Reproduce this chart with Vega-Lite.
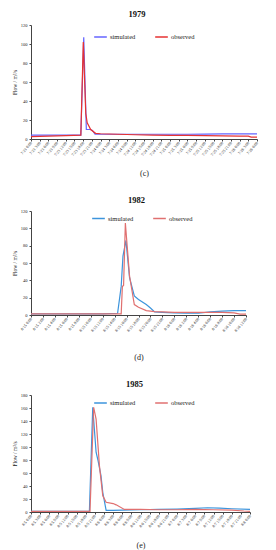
{
  "$schema": "https://vega.github.io/schema/vega-lite/v6.json",
  "background": "white",
  "padding": {"left": 12, "top": 9, "right": 5, "bottom": 0},
  "spacing": 17,
  "config": {
    "view": {"stroke": null},
    "font": "Liberation Serif",
    "axis": {"grid": false, "domainColor": "#444", "tickColor": "#444", "labelColor": "#222", "titleColor": "#222", "labelFont": "Liberation Serif", "titleFont": "Liberation Serif", "tickSize": 2, "titleFontWeight": "normal"},
    "title": {"font": "Liberation Serif", "fontWeight": "bold", "fontSize": 8.5, "color": "#111", "offset": 4},
    "legend": {"labelFont": "Liberation Serif", "labelFontSize": 6.5, "labelColor": "#222", "symbolType": "stroke", "symbolSize": 160, "symbolStrokeWidth": 1.5, "columnPadding": 16, "labelOffset": 2}
  },
  "datasets": {
    "y1979": [
      {"t": "1979-07-23T00:00:00Z", "series": "simulated", "flow": 4.0},
      {"t": "1979-07-23T03:00:00Z", "series": "simulated", "flow": 4.0},
      {"t": "1979-07-23T06:00:00Z", "series": "simulated", "flow": 4.0},
      {"t": "1979-07-23T09:00:00Z", "series": "simulated", "flow": 4.0},
      {"t": "1979-07-23T12:00:00Z", "series": "simulated", "flow": 4.0},
      {"t": "1979-07-23T15:00:00Z", "series": "simulated", "flow": 4.0},
      {"t": "1979-07-23T17:12:00Z", "series": "simulated", "flow": 4.0},
      {"t": "1979-07-23T18:12:00Z", "series": "simulated", "flow": 107},
      {"t": "1979-07-23T19:06:00Z", "series": "simulated", "flow": 10},
      {"t": "1979-07-23T20:30:00Z", "series": "simulated", "flow": 10},
      {"t": "1979-07-23T21:12:00Z", "series": "simulated", "flow": 9},
      {"t": "1979-07-23T22:06:00Z", "series": "simulated", "flow": 5},
      {"t": "1979-07-24T00:00:00Z", "series": "simulated", "flow": 5},
      {"t": "1979-07-24T06:00:00Z", "series": "simulated", "flow": 5},
      {"t": "1979-07-24T12:00:00Z", "series": "simulated", "flow": 5},
      {"t": "1979-07-24T18:00:00Z", "series": "simulated", "flow": 5},
      {"t": "1979-07-25T00:00:00Z", "series": "simulated", "flow": 5},
      {"t": "1979-07-25T06:00:00Z", "series": "simulated", "flow": 5},
      {"t": "1979-07-25T12:00:00Z", "series": "simulated", "flow": 5.2},
      {"t": "1979-07-25T18:00:00Z", "series": "simulated", "flow": 5.3},
      {"t": "1979-07-26T00:00:00Z", "series": "simulated", "flow": 5.4},
      {"t": "1979-07-26T06:00:00Z", "series": "simulated", "flow": 5.5},
      {"t": "1979-07-23T00:00:00Z", "series": "observed", "flow": 2.5},
      {"t": "1979-07-23T06:00:00Z", "series": "observed", "flow": 3.0},
      {"t": "1979-07-23T12:00:00Z", "series": "observed", "flow": 3.5},
      {"t": "1979-07-23T17:12:00Z", "series": "observed", "flow": 4.0},
      {"t": "1979-07-23T18:03:00Z", "series": "observed", "flow": 102},
      {"t": "1979-07-23T18:54:00Z", "series": "observed", "flow": 27},
      {"t": "1979-07-23T19:24:00Z", "series": "observed", "flow": 17},
      {"t": "1979-07-23T20:36:00Z", "series": "observed", "flow": 10},
      {"t": "1979-07-23T22:18:00Z", "series": "observed", "flow": 6},
      {"t": "1979-07-24T00:00:00Z", "series": "observed", "flow": 5.5},
      {"t": "1979-07-24T06:00:00Z", "series": "observed", "flow": 5},
      {"t": "1979-07-24T12:00:00Z", "series": "observed", "flow": 4.5},
      {"t": "1979-07-24T18:00:00Z", "series": "observed", "flow": 4},
      {"t": "1979-07-25T00:00:00Z", "series": "observed", "flow": 3.8},
      {"t": "1979-07-25T06:00:00Z", "series": "observed", "flow": 3.8},
      {"t": "1979-07-25T12:00:00Z", "series": "observed", "flow": 3.5},
      {"t": "1979-07-25T18:00:00Z", "series": "observed", "flow": 3.3},
      {"t": "1979-07-26T00:00:00Z", "series": "observed", "flow": 3},
      {"t": "1979-07-26T03:00:00Z", "series": "observed", "flow": 3},
      {"t": "1979-07-26T04:00:00Z", "series": "observed", "flow": 2},
      {"t": "1979-07-26T06:00:00Z", "series": "observed", "flow": 2}
    ],
    "y1982": [
      {"t": "1982-08-15T00:00:00Z", "series": "simulated", "flow": 1.2},
      {"t": "1982-08-15T06:00:00Z", "series": "simulated", "flow": 1.2},
      {"t": "1982-08-15T12:00:00Z", "series": "simulated", "flow": 1.2},
      {"t": "1982-08-15T14:30:00Z", "series": "simulated", "flow": 2},
      {"t": "1982-08-15T15:06:00Z", "series": "simulated", "flow": 33},
      {"t": "1982-08-15T15:24:00Z", "series": "simulated", "flow": 68},
      {"t": "1982-08-15T15:54:00Z", "series": "simulated", "flow": 86},
      {"t": "1982-08-15T16:30:00Z", "series": "simulated", "flow": 43},
      {"t": "1982-08-15T17:18:00Z", "series": "simulated", "flow": 22},
      {"t": "1982-08-15T18:00:00Z", "series": "simulated", "flow": 18},
      {"t": "1982-08-15T19:18:00Z", "series": "simulated", "flow": 12},
      {"t": "1982-08-15T20:00:00Z", "series": "simulated", "flow": 8},
      {"t": "1982-08-15T20:42:00Z", "series": "simulated", "flow": 3.5},
      {"t": "1982-08-15T22:00:00Z", "series": "simulated", "flow": 3},
      {"t": "1982-08-16T00:00:00Z", "series": "simulated", "flow": 2.5},
      {"t": "1982-08-16T02:00:00Z", "series": "simulated", "flow": 2},
      {"t": "1982-08-16T04:00:00Z", "series": "simulated", "flow": 2},
      {"t": "1982-08-16T06:00:00Z", "series": "simulated", "flow": 3.5},
      {"t": "1982-08-16T08:00:00Z", "series": "simulated", "flow": 4.5},
      {"t": "1982-08-16T10:00:00Z", "series": "simulated", "flow": 5},
      {"t": "1982-08-16T12:00:00Z", "series": "simulated", "flow": 5},
      {"t": "1982-08-15T00:00:00Z", "series": "observed", "flow": 1.2},
      {"t": "1982-08-15T12:00:00Z", "series": "observed", "flow": 1.2},
      {"t": "1982-08-15T15:06:00Z", "series": "observed", "flow": 1.2},
      {"t": "1982-08-15T15:18:00Z", "series": "observed", "flow": 33},
      {"t": "1982-08-15T15:30:00Z", "series": "observed", "flow": 34},
      {"t": "1982-08-15T15:48:00Z", "series": "observed", "flow": 106},
      {"t": "1982-08-15T16:30:00Z", "series": "observed", "flow": 45},
      {"t": "1982-08-15T17:18:00Z", "series": "observed", "flow": 12},
      {"t": "1982-08-15T18:00:00Z", "series": "observed", "flow": 9},
      {"t": "1982-08-15T19:18:00Z", "series": "observed", "flow": 5},
      {"t": "1982-08-15T20:42:00Z", "series": "observed", "flow": 4},
      {"t": "1982-08-15T22:00:00Z", "series": "observed", "flow": 3.5},
      {"t": "1982-08-16T00:00:00Z", "series": "observed", "flow": 3},
      {"t": "1982-08-16T04:00:00Z", "series": "observed", "flow": 3},
      {"t": "1982-08-16T08:00:00Z", "series": "observed", "flow": 3},
      {"t": "1982-08-16T10:00:00Z", "series": "observed", "flow": 2.5},
      {"t": "1982-08-16T11:00:00Z", "series": "observed", "flow": 1},
      {"t": "1982-08-16T12:00:00Z", "series": "observed", "flow": 1}
    ],
    "y1985": [
      {"t": "1985-08-05T00:00:00Z", "series": "simulated", "flow": 1},
      {"t": "1985-08-05T06:00:00Z", "series": "simulated", "flow": 1},
      {"t": "1985-08-05T12:00:00Z", "series": "simulated", "flow": 1},
      {"t": "1985-08-05T18:00:00Z", "series": "simulated", "flow": 1},
      {"t": "1985-08-05T19:12:00Z", "series": "simulated", "flow": 1},
      {"t": "1985-08-05T20:18:00Z", "series": "simulated", "flow": 161},
      {"t": "1985-08-05T21:24:00Z", "series": "simulated", "flow": 92},
      {"t": "1985-08-05T22:00:00Z", "series": "simulated", "flow": 80},
      {"t": "1985-08-05T23:00:00Z", "series": "simulated", "flow": 56},
      {"t": "1985-08-05T23:36:00Z", "series": "simulated", "flow": 30},
      {"t": "1985-08-06T00:42:00Z", "series": "simulated", "flow": 2.5},
      {"t": "1985-08-06T03:00:00Z", "series": "simulated", "flow": 2.5},
      {"t": "1985-08-06T06:00:00Z", "series": "simulated", "flow": 3},
      {"t": "1985-08-06T12:00:00Z", "series": "simulated", "flow": 3.5},
      {"t": "1985-08-06T18:00:00Z", "series": "simulated", "flow": 4},
      {"t": "1985-08-07T00:00:00Z", "series": "simulated", "flow": 4.5},
      {"t": "1985-08-07T06:00:00Z", "series": "simulated", "flow": 5.5},
      {"t": "1985-08-07T10:00:00Z", "series": "simulated", "flow": 6.5},
      {"t": "1985-08-07T14:00:00Z", "series": "simulated", "flow": 6},
      {"t": "1985-08-07T18:00:00Z", "series": "simulated", "flow": 5},
      {"t": "1985-08-08T00:00:00Z", "series": "simulated", "flow": 4},
      {"t": "1985-08-05T00:00:00Z", "series": "observed", "flow": 1},
      {"t": "1985-08-05T12:00:00Z", "series": "observed", "flow": 1},
      {"t": "1985-08-05T19:24:00Z", "series": "observed", "flow": 1},
      {"t": "1985-08-05T20:36:00Z", "series": "observed", "flow": 161},
      {"t": "1985-08-05T21:24:00Z", "series": "observed", "flow": 143},
      {"t": "1985-08-05T22:30:00Z", "series": "observed", "flow": 71},
      {"t": "1985-08-05T23:36:00Z", "series": "observed", "flow": 25},
      {"t": "1985-08-06T00:42:00Z", "series": "observed", "flow": 15},
      {"t": "1985-08-06T03:00:00Z", "series": "observed", "flow": 13},
      {"t": "1985-08-06T04:00:00Z", "series": "observed", "flow": 11},
      {"t": "1985-08-06T06:42:00Z", "series": "observed", "flow": 4},
      {"t": "1985-08-06T12:00:00Z", "series": "observed", "flow": 4},
      {"t": "1985-08-06T18:00:00Z", "series": "observed", "flow": 3.5},
      {"t": "1985-08-07T00:00:00Z", "series": "observed", "flow": 3.5},
      {"t": "1985-08-07T06:00:00Z", "series": "observed", "flow": 4},
      {"t": "1985-08-07T12:00:00Z", "series": "observed", "flow": 3.5},
      {"t": "1985-08-07T18:00:00Z", "series": "observed", "flow": 3},
      {"t": "1985-08-07T22:00:00Z", "series": "observed", "flow": 1.5},
      {"t": "1985-08-08T00:00:00Z", "series": "observed", "flow": 1}
    ]
  },
  "vconcat": [
    {
      "data": {"name": "y1979"},
      "width": 226,
      "height": 114,
      "title": {"text": "1979", "dx": -7},
      "mark": {"type": "line", "strokeWidth": 1.2},
      "encoding": {
        "x": {"field": "t", "type": "temporal",
          "scale": {"type": "utc", "nice": false},
          "axis": {"format": "%-m/%-d %-H:%M", "labelAngle": -50, "labelFontSize": 4, "labelPadding": 1, "labelOverlap": false, "labelFlush": false, "title": "(c)", "titleFontSize": 8, "titlePadding": 13,
            "values": [
              {"year": 1979, "month": 7, "date": 23, "hours": 0, "utc": true}, {"year": 1979, "month": 7, "date": 23, "hours": 3, "utc": true}, {"year": 1979, "month": 7, "date": 23, "hours": 6, "utc": true}, {"year": 1979, "month": 7, "date": 23, "hours": 9, "utc": true}, {"year": 1979, "month": 7, "date": 23, "hours": 12, "utc": true}, {"year": 1979, "month": 7, "date": 23, "hours": 15, "utc": true}, {"year": 1979, "month": 7, "date": 23, "hours": 18, "utc": true}, {"year": 1979, "month": 7, "date": 23, "hours": 21, "utc": true},
              {"year": 1979, "month": 7, "date": 24, "hours": 0, "utc": true}, {"year": 1979, "month": 7, "date": 24, "hours": 3, "utc": true}, {"year": 1979, "month": 7, "date": 24, "hours": 6, "utc": true}, {"year": 1979, "month": 7, "date": 24, "hours": 9, "utc": true}, {"year": 1979, "month": 7, "date": 24, "hours": 12, "utc": true}, {"year": 1979, "month": 7, "date": 24, "hours": 15, "utc": true}, {"year": 1979, "month": 7, "date": 24, "hours": 18, "utc": true}, {"year": 1979, "month": 7, "date": 24, "hours": 21, "utc": true},
              {"year": 1979, "month": 7, "date": 25, "hours": 0, "utc": true}, {"year": 1979, "month": 7, "date": 25, "hours": 3, "utc": true}, {"year": 1979, "month": 7, "date": 25, "hours": 6, "utc": true}, {"year": 1979, "month": 7, "date": 25, "hours": 9, "utc": true}, {"year": 1979, "month": 7, "date": 25, "hours": 12, "utc": true}, {"year": 1979, "month": 7, "date": 25, "hours": 15, "utc": true}, {"year": 1979, "month": 7, "date": 25, "hours": 18, "utc": true}, {"year": 1979, "month": 7, "date": 25, "hours": 21, "utc": true},
              {"year": 1979, "month": 7, "date": 26, "hours": 0, "utc": true}, {"year": 1979, "month": 7, "date": 26, "hours": 3, "utc": true}, {"year": 1979, "month": 7, "date": 26, "hours": 6, "utc": true}
            ]}},
        "y": {"field": "flow", "type": "quantitative",
          "scale": {"domain": [0, 120], "nice": false},
          "axis": {"values": [0, 20, 40, 60, 80, 100, 120], "labelFontSize": 4.5, "labelPadding": 2, "title": "Flow / m³/s", "titleFontSize": 5.5, "titlePadding": 3}},
        "color": {"field": "series", "type": "nominal",
          "scale": {"domain": ["simulated", "observed"], "range": ["#6464ff", "#e63232"]},
          "legend": {"title": null, "orient": "none", "direction": "horizontal", "legendX": 62, "legendY": 4.5}}
      }
    },
    {
      "data": {"name": "y1982"},
      "width": 215,
      "height": 104,
      "title": {"text": "1982", "dx": -2},
      "mark": {"type": "line", "strokeWidth": 1.2},
      "encoding": {
        "x": {"field": "t", "type": "temporal",
          "scale": {"type": "utc", "nice": false},
          "axis": {"format": "%-m/%-d %-H:%M", "labelAngle": -50, "labelFontSize": 4, "labelPadding": 1, "labelOverlap": false, "labelFlush": false, "title": "(d)", "titleFontSize": 8, "titlePadding": 21,
            "values": [
              {"year": 1982, "month": 8, "date": 15, "hours": 0, "utc": true}, {"year": 1982, "month": 8, "date": 15, "hours": 2, "utc": true}, {"year": 1982, "month": 8, "date": 15, "hours": 4, "utc": true}, {"year": 1982, "month": 8, "date": 15, "hours": 6, "utc": true}, {"year": 1982, "month": 8, "date": 15, "hours": 8, "utc": true}, {"year": 1982, "month": 8, "date": 15, "hours": 10, "utc": true}, {"year": 1982, "month": 8, "date": 15, "hours": 12, "utc": true}, {"year": 1982, "month": 8, "date": 15, "hours": 14, "utc": true}, {"year": 1982, "month": 8, "date": 15, "hours": 16, "utc": true}, {"year": 1982, "month": 8, "date": 15, "hours": 18, "utc": true}, {"year": 1982, "month": 8, "date": 15, "hours": 20, "utc": true}, {"year": 1982, "month": 8, "date": 15, "hours": 22, "utc": true},
              {"year": 1982, "month": 8, "date": 16, "hours": 0, "utc": true}, {"year": 1982, "month": 8, "date": 16, "hours": 2, "utc": true}, {"year": 1982, "month": 8, "date": 16, "hours": 4, "utc": true}, {"year": 1982, "month": 8, "date": 16, "hours": 6, "utc": true}, {"year": 1982, "month": 8, "date": 16, "hours": 8, "utc": true}, {"year": 1982, "month": 8, "date": 16, "hours": 10, "utc": true}, {"year": 1982, "month": 8, "date": 16, "hours": 12, "utc": true}
            ]}},
        "y": {"field": "flow", "type": "quantitative",
          "scale": {"domain": [0, 120], "nice": false},
          "axis": {"values": [0, 20, 40, 60, 80, 100, 120], "labelFontSize": 4.5, "labelPadding": 2, "title": "Flow / m³/s", "titleFontSize": 5.5, "titlePadding": 3}},
        "color": {"field": "series", "type": "nominal",
          "scale": {"domain": ["simulated", "observed"], "range": ["#3c94dc", "#e07070"]},
          "legend": {"title": null, "orient": "none", "direction": "horizontal", "legendX": 60, "legendY": 0}}
      }
    },
    {
      "data": {"name": "y1985"},
      "width": 219,
      "height": 117,
      "title": {"text": "1985", "dx": -6},
      "mark": {"type": "line", "strokeWidth": 1.2},
      "encoding": {
        "x": {"field": "t", "type": "temporal",
          "scale": {"type": "utc", "nice": false},
          "axis": {"format": "%-m/%-d %-H:%M", "labelAngle": -50, "labelFontSize": 4, "labelPadding": 1, "labelOverlap": false, "labelFlush": false, "title": "(e)", "titleFontSize": 8, "titlePadding": 14,
            "values": [
              {"year": 1985, "month": 8, "date": 5, "hours": 0, "utc": true}, {"year": 1985, "month": 8, "date": 5, "hours": 3, "utc": true}, {"year": 1985, "month": 8, "date": 5, "hours": 6, "utc": true}, {"year": 1985, "month": 8, "date": 5, "hours": 9, "utc": true}, {"year": 1985, "month": 8, "date": 5, "hours": 12, "utc": true}, {"year": 1985, "month": 8, "date": 5, "hours": 15, "utc": true}, {"year": 1985, "month": 8, "date": 5, "hours": 18, "utc": true}, {"year": 1985, "month": 8, "date": 5, "hours": 21, "utc": true},
              {"year": 1985, "month": 8, "date": 6, "hours": 0, "utc": true}, {"year": 1985, "month": 8, "date": 6, "hours": 3, "utc": true}, {"year": 1985, "month": 8, "date": 6, "hours": 6, "utc": true}, {"year": 1985, "month": 8, "date": 6, "hours": 9, "utc": true}, {"year": 1985, "month": 8, "date": 6, "hours": 12, "utc": true}, {"year": 1985, "month": 8, "date": 6, "hours": 15, "utc": true}, {"year": 1985, "month": 8, "date": 6, "hours": 18, "utc": true}, {"year": 1985, "month": 8, "date": 6, "hours": 21, "utc": true},
              {"year": 1985, "month": 8, "date": 7, "hours": 0, "utc": true}, {"year": 1985, "month": 8, "date": 7, "hours": 3, "utc": true}, {"year": 1985, "month": 8, "date": 7, "hours": 6, "utc": true}, {"year": 1985, "month": 8, "date": 7, "hours": 9, "utc": true}, {"year": 1985, "month": 8, "date": 7, "hours": 12, "utc": true}, {"year": 1985, "month": 8, "date": 7, "hours": 15, "utc": true}, {"year": 1985, "month": 8, "date": 7, "hours": 18, "utc": true}, {"year": 1985, "month": 8, "date": 7, "hours": 21, "utc": true},
              {"year": 1985, "month": 8, "date": 8, "hours": 0, "utc": true}
            ]}},
        "y": {"field": "flow", "type": "quantitative",
          "scale": {"domain": [0, 180], "nice": false},
          "axis": {"values": [0, 20, 40, 60, 80, 100, 120, 140, 160, 180], "labelFontSize": 4.5, "labelPadding": 2, "title": "Flow / m³/s", "titleFontSize": 5.5, "titlePadding": 3}},
        "color": {"field": "series", "type": "nominal",
          "scale": {"domain": ["simulated", "observed"], "range": ["#3c94dc", "#e07070"]},
          "legend": {"title": null, "orient": "none", "direction": "horizontal", "legendX": 62, "legendY": 0.5}}
      }
    }
  ],
  "resolve": {"scale": {"color": "independent"}, "legend": {"color": "independent"}}
}
